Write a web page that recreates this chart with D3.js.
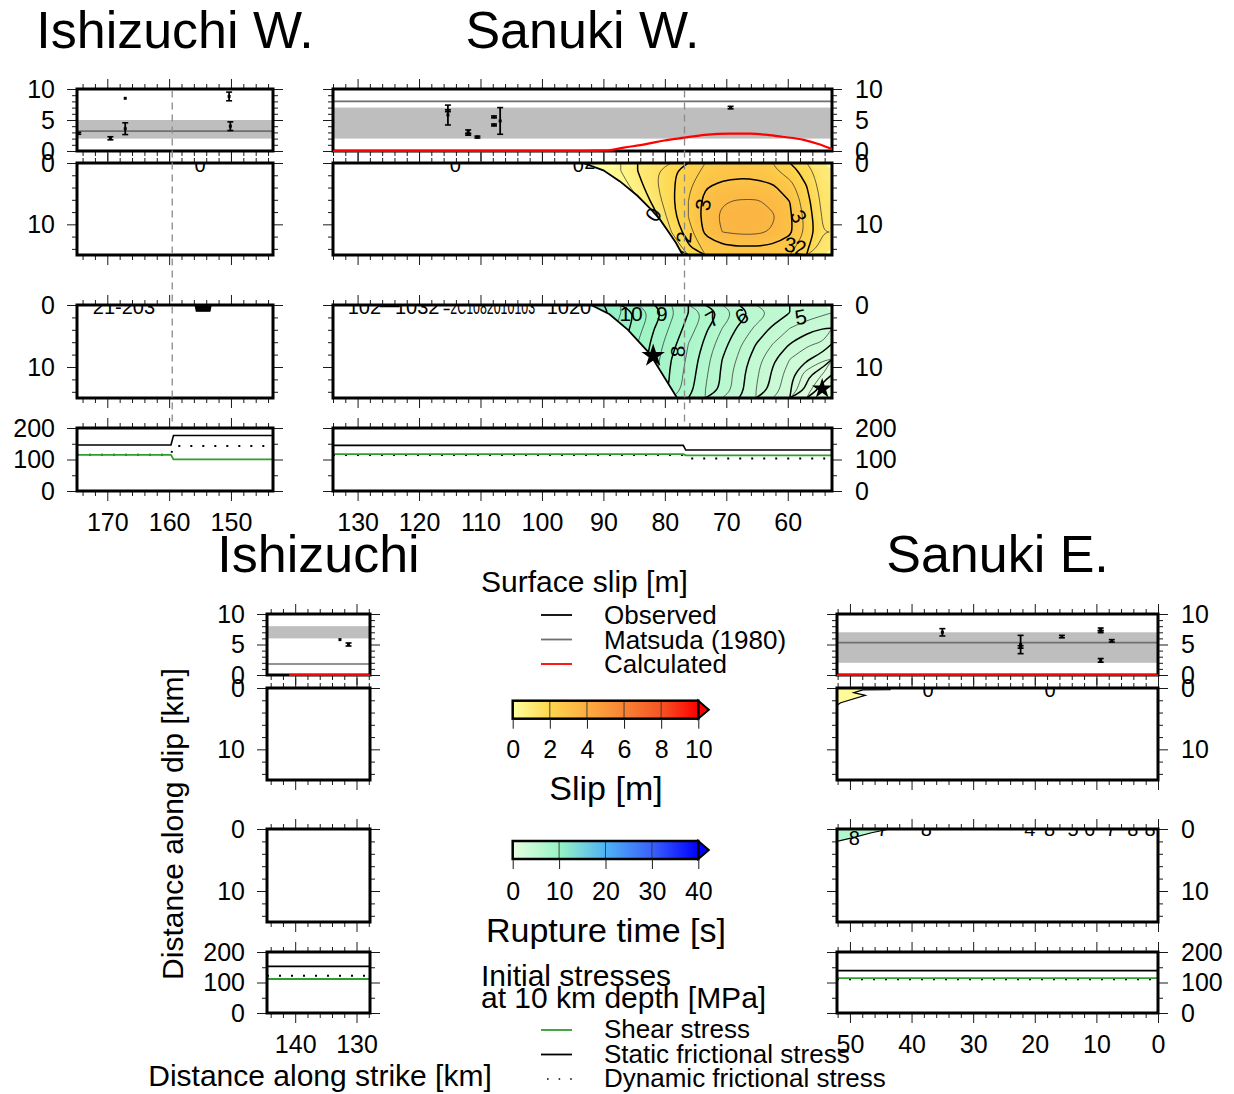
<!DOCTYPE html>
<html>
<head>
<meta charset="utf-8">
<title>Surface slip, slip and rupture time along the fault segments</title>
<script src="https://cdn.jsdelivr.net/npm/d3@7"></script>
<style>
  body { margin: 0; background: #fff; }
  svg text { font-family: "Liberation Sans", Arial, Helvetica, sans-serif; fill: #000; }
</style>
</head>
<body>
<svg id="fig" width="1234" height="1094"></svg>
<script>
// ---------- DATA ----------
// along-strike extent of each segment [km]
const ishWRange = [174.9, 143.2];
const sanWRange = [134.0, 52.8];
const ishRange  = [144.6, 127.8];
const sanERange = [52.1, 0];

// segment joints (dashed lines) [km]
const ishWJoint = 159.5;
const sanWJoint = 76.8;

// surface slip [m]: Matsuda (1980) range + value, observed [km, slip, error], calculated
const ishWBand = [2.0, 5.0], ishWMatsuda = 3.2;
const ishWObs = [[174.7, 2.85, 0.15], [169.5, 2.05, 0.25], [167.1, 8.5, 0], [167.1, 3.6, 0.95],
                 [150.1, 4.0, 0.7], [150.3, 8.8, 0.7]];
const ishWCalcKm = [], ishWCalcSlip = [];

const sanWBand = [2.0, 7.0], sanWMatsuda = 8.0;
const sanWObs = [[115.3, 5.8, 1.6], [115.3, 6.5, 0.15], [112.0, 3.1, 0.3], [112.0, 2.7, 0.15],
                 [110.5, 2.25, 0.15], [107.8, 5.5, 0.15], [107.8, 4.2, 0.15], [106.8, 4.85, 2.15],
                 [69.3, 7.0, 0.2]];
const sanWCalcKm   = [134, 93.3, 89.7, 86.7, 83.1, 80.1, 76.8, 73.5, 69.3, 66.1, 63.3, 60.9, 57.4, 54.9, 52.8];
const sanWCalcSlip = [0, 0, 0.05, 0.55, 1.1, 1.7, 2.15, 2.6, 2.8, 2.8, 2.6, 2.3, 1.8, 1.1, 0.3];

const ishBand = [6.0, 8.0], ishMatsuda = 1.8;
const ishObs = [[132.7, 5.8, 0], [131.3, 5.0, 0.25]];
const ishCalcKm = [141.0, 127.8], ishCalcSlip = [0, 0];

const sanEBand = [2.0, 7.0], sanEMatsuda = 5.3;
const sanEObs = [[35.0, 7.0, 0.6], [22.3, 5.0, 1.5], [22.3, 4.6, 0.2], [15.6, 6.3, 0.2],
                 [9.3, 7.5, 0.2], [9.3, 7.1, 0.15], [9.3, 2.4, 0.3], [7.5, 5.6, 0.2]];
const sanECalcKm = [52.1, 0], sanECalcSlip = [0, 0];

// initial stresses at 10 km depth [MPa]
const ishWStressKm = [174.9, 159.7, 159.3, 143.2];
const ishWStatic   = [146, 146, 176, 176];
const ishWShear    = [115, 115, 100.5, 100.5];
const ishWDynamic  = [115, 115, 143, 143];

const sanWStressKm = [134.0, 77.0, 76.6, 52.8];
const sanWStatic   = [145, 145, 130, 130];
const sanWShear    = [117, 117, 113, 113];
const sanWDynamic  = [114, 114, 103, 103];

const ishStressKm = [144.6, 127.8];
const ishStatic   = [153, 153];
const ishShear    = [111.5, 111.5];
const ishDynamic  = [122, 122];

const sanEStressKm = [52.1, 0];
const sanEStatic   = [139, 139];
const sanEShear    = [114.5, 114.5];
const sanEDynamic  = [111, 111];

// Sanuki W. slip and rupture-time grids: 16 columns over 96.8 -> 52.8 km, 6 rows over 0 -> 15 km depth
const sanWGridKm = [96.8, 52.8];
const sanWSlipGrid = [
  [0, 0, 0.1, 0.5, 1.0, 1.4, 1.9, 2.25, 2.6, 2.8, 2.85, 2.8, 2.6, 2.25, 1.75, 1.0],
  [0, 0, 0, 0.2, 0.8, 1.4, 1.9, 2.4, 2.95, 3.1, 3.15, 3.15, 3.05, 2.7, 2.0, 1.2],
  [0, 0, 0, 0, 0.4, 1.2, 1.9, 2.5, 3.15, 3.45, 3.55, 3.55, 3.4, 3.0, 2.2, 1.3],
  [0, 0, 0, 0, 0.1, 0.8, 1.8, 2.5, 3.2, 3.6, 3.7, 3.7, 3.55, 3.1, 2.3, 1.4],
  [0, 0, 0, 0, 0, 0.3, 1.5, 2.3, 3.1, 3.5, 3.6, 3.6, 3.45, 3.1, 2.4, 1.5],
  [0, 0, 0, 0, 0, 0, 0.9, 1.9, 2.7, 2.9, 2.95, 2.95, 2.9, 2.7, 2.1, 1.2]
];
const sanWRuptGrid = [
  [12.5, 11.8, 11.2, 10.5, 9.9, 9.3, 8.6, 8.0, 7.4, 6.9, 6.3, 5.8, 5.4, 5.0, 4.8, 4.6],
  [12.3, 11.7, 11.0, 10.3, 9.7, 9.0, 8.4, 7.8, 7.1, 6.5, 5.9, 5.4, 4.9, 4.5, 4.2, 4.0],
  [12.2, 11.5, 10.8, 10.2, 9.5, 8.8, 8.2, 7.5, 6.9, 6.2, 5.6, 5.0, 4.5, 4.0, 3.6, 3.4],
  [12.1, 11.4, 10.8, 10.1, 9.4, 8.7, 8.0, 7.4, 6.7, 6.0, 5.4, 4.7, 4.1, 3.5, 3.1, 2.6],
  [12.1, 11.4, 10.7, 10.0, 9.3, 8.6, 7.9, 7.3, 6.6, 5.9, 5.2, 4.6, 3.9, 3.2, 2.2, 1.4],
  [12.0, 11.4, 10.7, 10.0, 9.3, 8.6, 7.9, 7.2, 6.5, 5.9, 5.2, 4.5, 3.8, 3.1, 1.8, 0.5]
];
// edges of the slipped / ruptured area [km, depth]
const sanWSlipEdge = [[93.3, 0], [90.0, 1.2], [87.3, 3.0], [84.5, 5.3], [82.5, 7.3], [80.8, 9.2], [79.5, 11.1], [78.2, 13.0], [77.1, 15]];
const sanWRuptEdge = [[92.0, 0], [89.0, 1.5], [86.0, 4.0], [82.5, 7.8], [78.0, 15]];
// hypocentre and second nucleation [km, depth, symbol area]
const sanWStars = [[54.4, 13.5, 130], [81.9, 8.2, 170]];

// contour labels [text, km, depth, angle]
const sanWSlipLabels = [["0", 81.9, 8.4, -58], ["3", 73.8, 6.8, -80], ["3", 58.2, 8.7, 65],
                        ["2", 76.9, 12.1, -85], ["3", 59.6, 13.3, 8], ["2", 57.9, 13.8, 8]];
const sanWRuptLabels = [["10", 85.5, 1.4, 0], ["9", 80.5, 1.4, 0], ["7", 72.3, 2.2, -30],
                        ["6", 67.5, 1.8, -30], ["5", 57.9, 1.9, -10], ["8", 78.0, 7.5, -90]];
// shallow contour labels squeezed under the surface [text, km, depth]
const ishWSlipNotes = [["0", 155.0, 1.4]];
const ishWRuptNotes = [["21-203", 167.3, 1.4]];
const sanWSlipNotes = [["0", 114.1, 1.4], ["0", 94.1, 1.4], ["2", 92.2, 1.0]];
const sanWRuptNotes = [["102", 128.9, 1.5], ["\u2014", 124.8, 1.2], ["1032", 120.3, 1.5],
                       ["=2C1082010103", 108.6, 1.5], ["1020", 95.6, 1.5]];
const sanESlipNotes = [["0", 37.3, 1.4], ["0", 17.5, 1.4]];
const sanERuptNotes = [["7", 44.7, 1.1], ["8", 37.6, 1.1], ["4", 20.8, 1.1], ["8", 17.6, 1.1],
                       ["5", 13.8, 1.1], ["6", 11.1, 1.1], ["7", 7.6, 1.1], ["8", 4.1, 1.1],
                       ["8", 1.3, 1.1], ["8", 49.3, 2.6]];
// small shallow patches [km, depth]
const ishWRuptBlob = [[155.8, 0], [153.2, 0], [153.4, 1.0], [155.6, 1.0]];
const sanESlipBlob = [[52.1, 0], [43.5, 0], [43.5, 0.25], [47.9, 0.3], [49.4, 0.75], [47.5, 1.2], [51.5, 2.4], [52.1, 2.8]];
const sanERuptBlob = [[52.1, 0], [43.5, 0], [46.5, 0.6], [49.5, 1.4], [52.1, 2.0]];

// colour tables
const slipCptZ = [0, 2, 4, 6, 8, 10];
const ruptCptZ = [0, 10, 20, 30, 40];
const slipCbTicks = [0, 2, 4, 6, 8, 10];
const ruptCbTicks = [0, 10, 20, 30, 40];

// legend entries
const slipLegend = ["Observed", "Matsuda (1980)", "Calculated"];
const stressLegend = ["Shear stress", "Static frictional stress", "Dynamic frictional stress"];

// ---------- STYLE / LAYOUT ----------
const slipColor = d3.scaleLinear().domain(slipCptZ)
  .range(["#ffffa0", "#fdd64e", "#fbae40", "#f88233", "#f45425", "#ff0000"]);
const ruptColor = d3.scaleLinear().domain(ruptCptZ)
  .range(["#e8fde0", "#98f4c4", "#4fb2f4", "#3a62fc", "#0000ff"]);
const GREEN = "#2f9e2f";

const upper = {slip: [89, 151], depth: [163, 255], rupt: [305, 398], stress: [428, 491], title: 48};
const lower = {slip: [614, 675], depth: [688, 780], rupt: [829, 922], stress: [952, 1013], title: 572};

const svg = d3.select("#fig");
const defs = svg.append("defs");

let clipN = 0;
function clipRect(x0, y0, x1, y1) {
  const id = "clip" + (clipN++);
  defs.append("clipPath").attr("id", id).append("rect")
    .attr("x", x0).attr("y", y0).attr("width", x1 - x0).attr("height", y1 - y0);
  return `url(#${id})`;
}
function clipPathD(d) {
  const id = "clip" + (clipN++);
  defs.append("clipPath").attr("id", id).append("path").attr("d", d);
  return `url(#${id})`;
}

function styleAxis(sel) {
  sel.select(".domain").remove();
  sel.attr("font-family", null).attr("font-size", null);
  sel.selectAll(".tick line").attr("stroke", "#1a1a1a").attr("stroke-width", 1);
  sel.selectAll(".tick text").attr("font-size", 25).attr("fill", "#000");
}

// GMT-like frame: ticks on four sides, labels on one side
function frame(g, x, top, bottom, y, yMajor, yMinor, side, xLabels) {
  const [x0, x1] = x.range();
  const lo = d3.min(x.domain()), hi = d3.max(x.domain());
  const xMajor = d3.range(Math.ceil(lo / 10) * 10, hi + 1e-6, 10);
  const xMinor = d3.range(Math.ceil(lo / 2) * 2, hi + 1e-6, 2).filter(v => v % 10 !== 0);
  const add = (axis, tx, ty) => g.append("g").attr("transform", `translate(${tx},${ty})`).call(axis).call(styleAxis);
  add(d3.axisTop(x).tickValues(xMinor).tickSize(5).tickFormat(""), 0, top);
  add(d3.axisTop(x).tickValues(xMajor).tickSize(10).tickFormat(""), 0, top);
  add(d3.axisBottom(x).tickValues(xMinor).tickSize(5).tickFormat(""), 0, bottom);
  add(d3.axisBottom(x).tickValues(xMajor).tickSize(10).tickPadding(12)
    .tickFormat(xLabels ? d3.format("d") : ""), 0, bottom);
  add(d3.axisLeft(y).tickValues(yMinor).tickSize(5).tickFormat(""), x0, 0);
  add(d3.axisLeft(y).tickValues(yMajor).tickSize(10).tickPadding(12)
    .tickFormat(side === "left" ? d3.format("d") : ""), x0, 0);
  add(d3.axisRight(y).tickValues(yMinor).tickSize(5).tickFormat(""), x1, 0);
  add(d3.axisRight(y).tickValues(yMajor).tickSize(10).tickPadding(13)
    .tickFormat(side === "right" ? d3.format("d") : ""), x1, 0);
  g.append("rect").attr("x", x0).attr("y", top).attr("width", x1 - x0).attr("height", bottom - top)
    .attr("fill", "none").attr("stroke", "#000").attr("stroke-width", 3);
}

// contour geometry of a grid in pixel space
function gridContours(grid, gridKm, x, y, thresholds) {
  const m = grid.length, n = grid[0].length;
  const cx = d3.scaleLinear().domain([0, n]).range([x(gridKm[0]), x(gridKm[1])]);
  const cy = d3.scaleLinear().domain([0, m]).range([y(0), y(15)]);
  return {n, m, P: p => [cx(p[0]), cy(p[1])],
          sets: d3.contours().size([n, m]).thresholds(thresholds)(grid.flat())};
}

// filled bands: straight marching-squares polygons
function bandPaths(grid, gridKm, x, y, thresholds) {
  const {P, sets} = gridContours(grid, gridKm, x, y, thresholds);
  const ring = d3.line();
  return sets.map(c => ({value: c.value,
    d: c.coordinates.map(poly => poly.map(r => ring(r.map(P)) + "Z").join("")).join("")}));
}

// isolines: drop the parts running along the grid border and smooth the rest
function linePaths(grid, gridKm, x, y, thresholds) {
  const {n, m, P, sets} = gridContours(grid, gridKm, x, y, thresholds);
  const eps = 1e-6;
  const onEdge = p => p[0] <= eps || p[0] >= n - eps || p[1] <= eps || p[1] >= m - eps;
  const open = d3.line().curve(d3.curveBasis), closed = d3.line().curve(d3.curveBasisClosed);
  return sets.map(c => {
    const parts = [];
    c.coordinates.forEach(poly => poly.forEach(r => {
      const pts = r.slice(0, -1), k = pts.length;
      let start = -1;
      for (let i = 0; i < k; i++) if (onEdge(pts[i]) && onEdge(pts[(i + 1) % k])) { start = (i + 1) % k; break; }
      if (start < 0) { parts.push(closed(pts.map(P))); return; }
      let run = [];
      for (let j = 0; j < k; j++) {
        const i = (start + j) % k, ni = (i + 1) % k;
        run.push(pts[i]);
        if (onEdge(pts[i]) && onEdge(pts[ni])) { if (run.length > 1) parts.push(open(run.map(P))); run = []; }
      }
      if (run.length > 1) parts.push(open(run.map(P)));
    }));
    return {value: c.value, d: parts.join("")};
  });
}

function slipPanel(g, s, x) {
  const [t, b] = s.row.slip;
  const [x0, x1] = x.range();
  const y = d3.scaleLinear().domain([0, 10]).range([b, t]);
  const inner = g.append("g").attr("clip-path", clipRect(x0, t, x1, b));
  inner.append("rect").attr("x", x0).attr("width", x1 - x0)
    .attr("y", y(s.band[1])).attr("height", y(s.band[0]) - y(s.band[1])).attr("fill", "#bebebe");
  inner.append("line").attr("x1", x0).attr("x2", x1).attr("y1", y(s.matsuda)).attr("y2", y(s.matsuda))
    .attr("stroke", "#6f6f6f").attr("stroke-width", 1.6);
  const obs = inner.selectAll("g.obs").data(s.obs).join("g").attr("class", "obs");
  obs.filter(d => d[2] > 0).each(function (d) {
    const o = d3.select(this), px = x(d[0]);
    o.append("line").attr("x1", px).attr("x2", px).attr("y1", y(d[1] - d[2])).attr("y2", y(d[1] + d[2]))
      .attr("stroke", "#000").attr("stroke-width", 1.8);
    [d[1] - d[2], d[1] + d[2]].forEach(v => o.append("line").attr("x1", px - 3).attr("x2", px + 3)
      .attr("y1", y(v)).attr("y2", y(v)).attr("stroke", "#000").attr("stroke-width", 1.6));
    o.append("rect").attr("x", px - 1.5).attr("y", y(d[1]) - 1.5).attr("width", 3).attr("height", 3).attr("fill", "#000");
  });
  obs.filter(d => d[2] === 0).append("rect")
    .attr("x", d => x(d[0]) - 1.5).attr("y", d => y(d[1]) - 1.5).attr("width", 3).attr("height", 3).attr("fill", "#000");
  frame(g, x, t, b, y, [0, 5, 10], [1, 2, 3, 4, 6, 7, 8, 9], s.side, false);
  if (s.calcKm.length) {
    g.append("path").datum(d3.zip(s.calcKm, s.calcSlip))
      .attr("d", d3.line().x(d => x(d[0])).y(d => y(d[1])).curve(d3.curveMonotoneX))
      .attr("fill", "none").attr("stroke", "#ff0000").attr("stroke-width", 2.2);
  }
}

function fieldPanel(g, s, x, rowRange, f) {
  const [t, b] = rowRange;
  const [x0, x1] = x.range();
  const y = d3.scaleLinear().domain([0, 15]).range([t, b]);
  const inner = g.append("g").attr("clip-path", clipRect(x0, t, x1, b));
  if (f.grid) {
    const edge = f.edge.map(p => [x(p[0]), y(p[1])]);
    const poly = [[edge[0][0], t - 5], ...edge, [edge[edge.length - 1][0], b + 5], [x1 + 5, b + 5], [x1 + 5, t - 5]];
    const reg = inner.append("g").attr("clip-path", clipPathD("M" + poly.join("L") + "Z"));
    reg.append("rect").attr("x", x0).attr("y", t).attr("width", x1 - x0).attr("height", b - t).attr("fill", f.color(0));
    bandPaths(f.grid, f.gridKm, x, y, d3.range(0, f.max, f.step)).forEach(c =>
      reg.append("path").attr("d", c.d).attr("fill", f.color(c.value + f.step / 2)));
    linePaths(f.grid, f.gridKm, x, y, f.thin).forEach(c =>
      reg.append("path").attr("d", c.d).attr("fill", "none").attr("stroke", "#262626").attr("stroke-width", 0.7));
    linePaths(f.grid, f.gridKm, x, y, f.thick).forEach(c =>
      reg.append("path").attr("d", c.d).attr("fill", "none").attr("stroke", "#000").attr("stroke-width", 1.5));
    inner.append("path").attr("d", d3.line()(edge)).attr("fill", "none").attr("stroke", "#000").attr("stroke-width", 1.8);
    inner.selectAll("text.lab").data(f.labels).join("text").attr("class", "lab")
      .attr("transform", d => `translate(${x(d[1])},${y(d[2])}) rotate(${d[3]})`)
      .attr("text-anchor", "middle").attr("dominant-baseline", "central").attr("font-size", 21).text(d => d[0]);
  }
  if (f.blob) {
    inner.append("path").attr("d", d3.line()(f.blob.map(p => [x(p[0]), y(p[1])])) + "Z")
      .attr("fill", f.blobFill).attr("stroke", "#000").attr("stroke-width", 1.2);
  }
  if (f.notes) {
    const notes = inner.selectAll("text.note").data(f.notes).join("text").attr("class", "note")
      .attr("x", d => x(d[1])).attr("y", d => y(d[2])).attr("text-anchor", "middle")
      .attr("font-size", 20).text(d => d[0]);
    // long clusters of overprinted labels are squeezed like in the plot
    notes.filter(d => d[0].length > 6).attr("textLength", 92).attr("lengthAdjust", "spacingAndGlyphs");
  }
  if (f.stars) {
    inner.selectAll("path.star").data(f.stars).join("path").attr("class", "star")
      .attr("transform", d => `translate(${x(d[0])},${y(d[1])})`)
      .attr("d", d => d3.symbol(d3.symbolStar, d[2])()).attr("fill", "#000");
  }
  frame(g, x, t, b, y, [0, 10], [2, 4, 6, 8, 12, 14], s.side, false);
}

function stressPanel(g, s, x) {
  const [t, b] = s.row.stress;
  const [x0, x1] = x.range();
  const y = d3.scaleLinear().domain([0, 200]).range([b, t]);
  const line = d3.line().x(d => x(d[0])).y(d => y(d[1]));
  const inner = g.append("g").attr("clip-path", clipRect(x0, t, x1, b));
  inner.append("path").datum(d3.zip(s.stressKm, s.dynamic)).attr("d", line).attr("fill", "none")
    .attr("stroke", "#000").attr("stroke-width", 2).attr("stroke-dasharray", "2,10");
  inner.append("path").datum(d3.zip(s.stressKm, s.shear)).attr("d", line).attr("fill", "none")
    .attr("stroke", GREEN).attr("stroke-width", 1.8);
  inner.append("path").datum(d3.zip(s.stressKm, s.staticS)).attr("d", line).attr("fill", "none")
    .attr("stroke", "#000").attr("stroke-width", 1.6);
  frame(g, x, t, b, y, [0, 100, 200], [50, 150], s.side, true);
}

// ---------- SEGMENTS ----------
const segments = [
  {title: "Ishizuchi W.", px: [77, 273], dom: ishWRange, row: upper, side: "left", joint: ishWJoint,
   band: ishWBand, matsuda: ishWMatsuda, obs: ishWObs, calcKm: ishWCalcKm, calcSlip: ishWCalcSlip,
   stressKm: ishWStressKm, staticS: ishWStatic, shear: ishWShear, dynamic: ishWDynamic,
   slipField: {notes: ishWSlipNotes},
   ruptField: {notes: ishWRuptNotes, blob: ishWRuptBlob, blobFill: "#000"}},
  {title: "Sanuki W.", px: [333, 832], dom: sanWRange, row: upper, side: "right", joint: sanWJoint,
   band: sanWBand, matsuda: sanWMatsuda, obs: sanWObs, calcKm: sanWCalcKm, calcSlip: sanWCalcSlip,
   stressKm: sanWStressKm, staticS: sanWStatic, shear: sanWShear, dynamic: sanWDynamic,
   slipField: {grid: sanWSlipGrid, gridKm: sanWGridKm, edge: sanWSlipEdge, color: slipColor, max: 4, step: 0.1,
               thin: [0.5, 1.5, 2.5, 3.5], thick: [1, 2, 3], labels: sanWSlipLabels, notes: sanWSlipNotes},
   ruptField: {grid: sanWRuptGrid, gridKm: sanWGridKm, edge: sanWRuptEdge, color: ruptColor, max: 13, step: 0.25,
               thin: d3.range(0.5, 13, 1), thick: d3.range(1, 13, 1), labels: sanWRuptLabels,
               notes: sanWRuptNotes, stars: sanWStars}},
  {title: "Ishizuchi", px: [267, 370], dom: ishRange, row: lower, side: "left",
   band: ishBand, matsuda: ishMatsuda, obs: ishObs, calcKm: ishCalcKm, calcSlip: ishCalcSlip,
   stressKm: ishStressKm, staticS: ishStatic, shear: ishShear, dynamic: ishDynamic,
   slipField: {}, ruptField: {}},
  {title: "Sanuki E.", px: [837, 1158], dom: sanERange, row: lower, side: "right",
   band: sanEBand, matsuda: sanEMatsuda, obs: sanEObs, calcKm: sanECalcKm, calcSlip: sanECalcSlip,
   stressKm: sanEStressKm, staticS: sanEStatic, shear: sanEShear, dynamic: sanEDynamic,
   slipField: {notes: sanESlipNotes, blob: sanESlipBlob, blobFill: slipColor(0.2)},
   ruptField: {notes: sanERuptNotes, blob: sanERuptBlob, blobFill: ruptColor(7)}}
];

segments.forEach(s => {
  const g = svg.append("g");
  const x = d3.scaleLinear().domain(s.dom).range(s.px);
  slipPanel(g, s, x);
  fieldPanel(g, s, x, s.row.depth, s.slipField);
  fieldPanel(g, s, x, s.row.rupt, s.ruptField);
  stressPanel(g, s, x);
  if (s.joint !== undefined) {
    g.append("line").attr("x1", x(s.joint)).attr("x2", x(s.joint))
      .attr("y1", s.row.slip[0] + 1.5).attr("y2", s.row.stress[0] - 1.5)
      .attr("stroke", "#8a8a8a").attr("stroke-width", 1.3).attr("stroke-dasharray", "7,5");
  }
  g.append("text").attr("x", (s.px[0] + s.px[1]) / 2).attr("y", s.row.title)
    .attr("text-anchor", "middle").attr("font-size", 52).text(s.title);
});

// ---------- AXIS TITLES ----------
svg.append("text").attr("transform", "translate(183,824) rotate(-90)").attr("text-anchor", "middle")
  .attr("font-size", 30).text("Distance along dip [km]");
svg.append("text").attr("x", 320).attr("y", 1086).attr("text-anchor", "middle")
  .attr("font-size", 30).text("Distance along strike [km]");

// ---------- LEGENDS ----------
const leg = svg.append("g");
leg.append("text").attr("x", 481).attr("y", 592).attr("font-size", 30).text("Surface slip [m]");
const slipLegStroke = ["#000", "#6f6f6f", "#ff0000"];
slipLegend.forEach((txt, i) => {
  const yy = 615 + i * 24.5;
  leg.append("line").attr("x1", 541).attr("x2", 572).attr("y1", yy).attr("y2", yy)
    .attr("stroke", slipLegStroke[i]).attr("stroke-width", 1.8);
  leg.append("text").attr("x", 604).attr("y", yy + 9).attr("font-size", 26).text(txt);
});

leg.append("text").attr("x", 481).attr("y", 986).attr("font-size", 30).text("Initial stresses");
leg.append("text").attr("x", 481).attr("y", 1008).attr("font-size", 30).text("at 10 km depth [MPa]");
stressLegend.forEach((txt, i) => {
  const yy = 1030 + i * 24.5;
  const l = leg.append("line").attr("x1", 541).attr("x2", 572).attr("y1", yy).attr("y2", yy)
    .attr("stroke", i === 0 ? GREEN : "#000").attr("stroke-width", i === 2 ? 1.6 : 1.8);
  if (i === 2) l.attr("x1", 547).attr("stroke-dasharray", "1.6,10");
  leg.append("text").attr("x", 604).attr("y", yy + 8).attr("font-size", 26).text(txt);
});

// ---------- COLOUR BARS ----------
function colorbar(top, scale, zs, ticks, title, labelY, titleY, id) {
  const x = d3.scaleLinear().domain(d3.extent(zs)).range([512.7, 698.3]);
  const h = 18;
  const grad = defs.append("linearGradient").attr("id", id).attr("x1", "0%").attr("x2", "100%");
  zs.forEach(z => grad.append("stop").attr("offset", (100 * (z - zs[0]) / (zs[zs.length - 1] - zs[0])) + "%")
    .attr("stop-color", scale(z)));
  const g = svg.append("g");
  g.append("path").attr("d", `M${x.range()[1]},${top}L${x.range()[1] + 10.5},${top + h / 2}L${x.range()[1]},${top + h}Z`)
    .attr("fill", scale(zs[zs.length - 1])).attr("stroke", "#000").attr("stroke-width", 2);
  g.append("rect").attr("x", x.range()[0]).attr("y", top).attr("width", x.range()[1] - x.range()[0]).attr("height", h)
    .attr("fill", `url(#${id})`);
  g.selectAll("line.div").data(ticks.slice(1, -1)).join("line").attr("class", "div")
    .attr("x1", d => x(d)).attr("x2", d => x(d)).attr("y1", top).attr("y2", top + h)
    .attr("stroke", "#333").attr("stroke-width", 0.9);
  g.append("rect").attr("x", x.range()[0]).attr("y", top).attr("width", x.range()[1] - x.range()[0]).attr("height", h)
    .attr("fill", "none").attr("stroke", "#000").attr("stroke-width", 2.5);
  g.append("g").attr("transform", `translate(0,${top + h})`)
    .call(d3.axisBottom(x).tickValues(ticks).tickSize(10).tickPadding(labelY - top - h - 28).tickFormat(d3.format("d")))
    .call(styleAxis);
  g.append("text").attr("x", 606).attr("y", titleY).attr("text-anchor", "middle").attr("font-size", 34).text(title);
}
colorbar(700.7, slipColor, slipCptZ, slipCbTicks, "Slip [m]", 758, 800, "gSlip");
colorbar(841, ruptColor, ruptCptZ, ruptCbTicks, "Rupture time [s]", 900, 942, "gRupt");
</script>
</body>
</html>
